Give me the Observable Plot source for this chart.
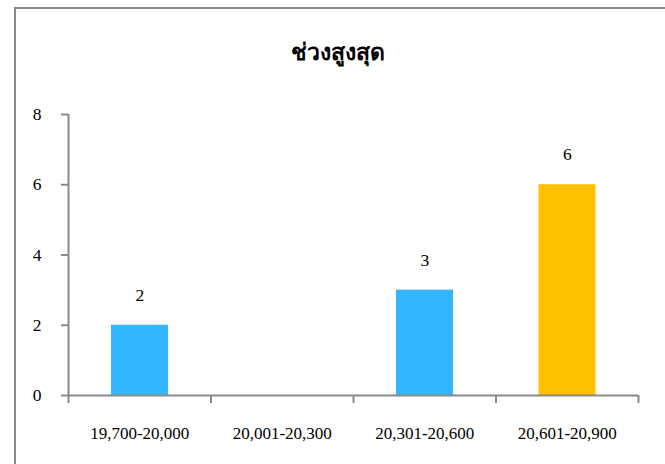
<!DOCTYPE html>
<html>
<head>
<meta charset="utf-8">
<script src="https://cdn.jsdelivr.net/npm/d3@7"></script>
<script src="https://cdn.jsdelivr.net/npm/@observablehq/plot@0.6"></script>
<style>
  html, body { margin: 0; padding: 0; background: #fff; }
  #wrap { position: relative; width: 665px; height: 464px; overflow: hidden; font-family: "Liberation Serif", "Times New Roman", serif; }
  #frame { position: absolute; left: 14px; top: 7px; width: 700px; height: 500px; border-left: 2px solid #8a8a8a; border-top: 2px solid #8a8a8a; box-sizing: border-box; }
  #title { position: relative; height: 42px; padding-top: 38px; line-height: 30px; text-align: center; font-size: 23px; font-weight: bold; color: #000; padding-left: 10px; }
  #chart { position: relative; }
</style>
</head>
<body>
<div id="wrap">
  <div id="frame"></div>
  <div id="title">ช่วงสูงสุด</div>
  <div id="chart"></div>
</div>
<script>
const categories = ["19,700-20,000", "20,001-20,300", "20,301-20,600", "20,601-20,900"];
const values = [2, 0, 3, 6];
const yTicks = [0, 2, 4, 6, 8];

const blue = "#33b5ff";
const orange = "#ffc000";
const axisColor = "#8a8a8a";

const data = categories.map((c, i) => ({ i, category: c, value: values[i] }));
const maxV = d3.max(values);

const plot = Plot.plot({
  width: 665,
  height: 384,
  marginLeft: 68,
  marginRight: 27,
  marginTop: 34,
  marginBottom: 69,
  style: { fontFamily: "'Liberation Serif', 'Times New Roman', serif", fontSize: "17px", color: "#000", background: "transparent", overflow: "visible" },
  x: { type: "linear", domain: [0, categories.length] },
  y: { domain: [0, 8] },
  marks: [
    Plot.rectY(data, {
      x1: d => d.i, x2: d => d.i + 1, y: "value",
      insetLeft: 43, insetRight: 42.5,
      fill: d => d.value === maxV ? orange : blue
    }),
    Plot.axisY({ ticks: yTicks, tickSize: 7, tickPadding: 20, stroke: axisColor, strokeWidth: 2, fill: "#000", label: null, fontSize: 17.5 }),
    Plot.ruleX([0], { y1: 0, y2: 8, stroke: axisColor, strokeWidth: 2 }),
    Plot.ruleY([0], { stroke: axisColor, strokeWidth: 2 }),
    Plot.axisX({ ticks: d3.range(categories.length + 1), tickFormat: () => "", tickSize: 8, stroke: axisColor, strokeWidth: 2, label: null }),
    Plot.axisX({ ticks: d3.range(categories.length).map(i => i + 0.5), tickFormat: v => categories[Math.floor(v)], tickSize: 0, tickPadding: 31, fill: "#000", label: null, fontSize: 17 }),
    Plot.text(data.filter(d => d.value > 0), {
      x: d => d.i + 0.5, y: "value", text: d => String(d.value),
      dy: -30, fontSize: 17.5, fill: "#000"
    })
  ]
});
document.getElementById("chart").appendChild(plot);
</script>
</body>
</html>
